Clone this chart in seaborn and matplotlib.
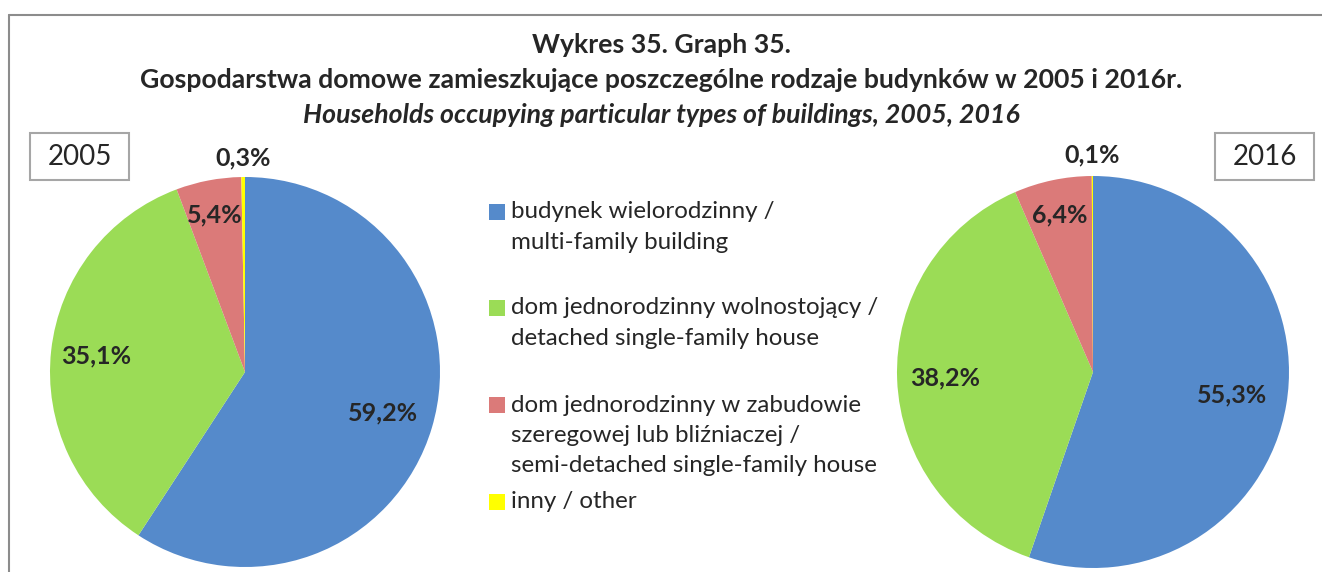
import matplotlib
matplotlib.use("Agg")
import matplotlib.pyplot as plt
from matplotlib.patches import Rectangle
from matplotlib.lines import Line2D
import numpy as np
import seaborn as sns

sns.set_theme(style="white")
plt.rcParams["font.family"] = ["Lato", "DejaVu Sans"]

# Data
categories = [
    "budynek wielorodzinny /\nmulti-family building",
    "dom jednorodzinny wolnostojący /\ndetached single-family house",
    "dom jednorodzinny w zabudowie\nszeregowej lub bliźniaczej /\nsemi-detached single-family house",
    "inny / other",
]
values_2005 = [59.2, 35.1, 5.4, 0.3]
values_2016 = [55.3, 38.2, 6.4, 0.1]
years = ["2005", "2016"]
colors = ["#558ACB", "#9BDC56", "#DB7A79", "#FFFF00"]

W, H = 1322, 572
fig = plt.figure(figsize=(W / 100, H / 100), dpi=100)
fig.patch.set_facecolor("white")


def fx(px):
    return px / W


def fy(py):
    return 1 - py / H


# outer frame (top and left edges visible)
fig.add_artist(Line2D([fx(9), fx(9)], [fy(15), 0], color="#8C8C8C", lw=1.5,
                      transform=fig.transFigure))
fig.add_artist(Line2D([fx(9), 1], [fy(15), fy(15)], color="#8C8C8C", lw=1.5,
                      transform=fig.transFigure))

# titles
TITLE_FS = 19.2
fig.text(fx(661), fy(45), "Wykres 35. Graph 35.", ha="center", va="center",
         fontsize=TITLE_FS, fontweight="bold")
fig.text(fx(661), fy(80),
         "Gospodarstwa domowe zamieszkujące poszczególne rodzaje budynków w 2005 i 2016r.",
         ha="center", va="center", fontsize=TITLE_FS, fontweight="bold")
fig.text(fx(661), fy(115), "Households occupying particular types of buildings, 2005, 2016",
         ha="center", va="center", fontsize=TITLE_FS, fontweight="bold", style="italic")


def draw_pie(cx, cy, r, vals, dists):
    ax = fig.add_axes([fx(cx - r), fy(cy + r), 2 * r / W, 2 * r / H])
    wedges, _ = ax.pie(vals, colors=colors, startangle=90, counterclock=False,
                       radius=1.0, wedgeprops=dict(linewidth=0))
    ax.set_xlim(-1, 1)
    ax.set_ylim(-1, 1)
    ax.set_aspect("equal")
    ax.axis("off")
    for w, v, d in zip(wedges, vals, dists):
        ang = np.deg2rad((w.theta1 + w.theta2) / 2)
        ax.text(d * np.cos(ang), d * np.sin(ang), f"{v:.1f}".replace(".", ",") + "%",
                ha="center", va="center", fontsize=18, fontweight="bold",
                clip_on=False)
    return ax


draw_pie(245, 372, 195, values_2005, [0.74, 0.77, 0.82, 1.10])
draw_pie(1093, 372, 196, values_2016, [0.72, 0.755, 0.82, 1.11])

# year boxes
for (x0, label) in [(30, years[0]), (1215, years[1])]:
    fig.add_artist(Rectangle((fx(x0), fy(180)), 99 / W, 47 / H, transform=fig.transFigure,
                             facecolor="white", edgecolor="#A6A6A6", lw=1.5))
    fig.text(fx(x0 + 49.5), fy(157), label, ha="center", va="center", fontsize=20)

# legend
legend_rows = [212, 308, 405, 502]
for cat, col, y in zip(categories, colors, legend_rows):
    fig.add_artist(Rectangle((fx(489), fy(y + 8)), 16 / W, 16 / H,
                             transform=fig.transFigure, facecolor=col, edgecolor="none"))
    for i, line in enumerate(cat.split("\n")):
        fig.text(fx(511), fy(y + i * 30.5), line, ha="left", va="center", fontsize=17.4)

fig.savefig("out.png", dpi=100, facecolor="white")
